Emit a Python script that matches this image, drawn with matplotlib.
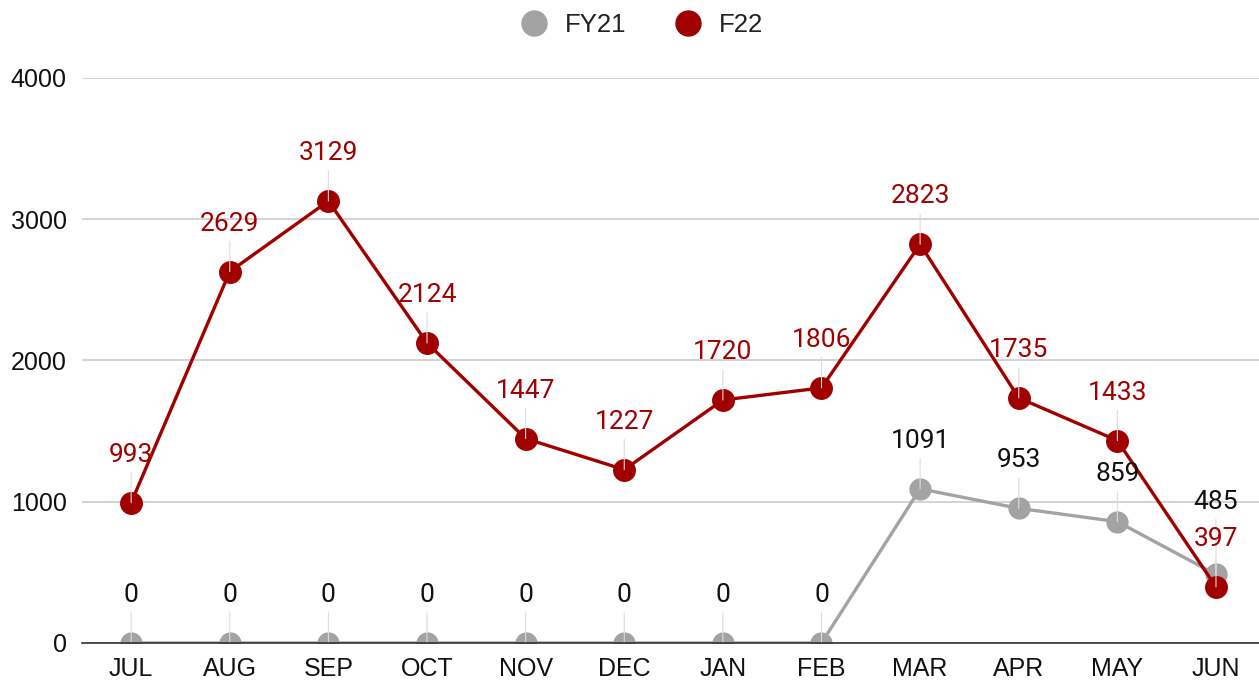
import matplotlib.pyplot as plt
from matplotlib.lines import Line2D

plt.rcParams['font.family'] = ['Liberation Sans', 'DejaVu Sans']

months = ['JUL', 'AUG', 'SEP', 'OCT', 'NOV', 'DEC', 'JAN', 'FEB', 'MAR', 'APR', 'MAY', 'JUN']
fy21 = [0, 0, 0, 0, 0, 0, 0, 0, 1091, 953, 859, 485]
f22 = [993, 2629, 3129, 2124, 1447, 1227, 1720, 1806, 2823, 1735, 1433, 397]

grey = '#a3a3a3'
red = '#a00000'

fig = plt.figure(figsize=(12.59, 6.84), dpi=100)
ax = fig.add_axes([0.065, 0.06, 0.94, 0.826])
x = list(range(len(months)))

ax.plot(x, fy21, color=grey, lw=2.4, marker='o', ms=15, zorder=3)
ax.plot(x, f22, color=red, lw=2.4, marker='o', ms=15.5, zorder=4)

# labels above each point, with a thin leader line
def label(xi, yi, text, color, off=34.5):
    ax.annotate(text, (xi, yi), xytext=(0, off), textcoords='offset points',
                ha='center', va='center', fontsize=19, color=color, zorder=5,
                family=['Roboto', 'DejaVu Sans'],
                arrowprops=dict(arrowstyle='-', color='#dddddd', lw=0.8,
                                shrinkA=2, shrinkB=0), annotation_clip=False)

for i, v in enumerate(fy21):
    off = 52.5 if i == 11 else 34.5
    label(i, v, str(v), '#111111', off)
for i, v in enumerate(f22):
    label(i, v, str(v), red)

ax.set_xlim(-0.5, 11.5)
ax.set_ylim(0, 4000)
ax.set_yticks([0, 1000, 2000, 3000, 4000])
ax.set_xticks(x)
ax.set_xticklabels(months)
ax.grid(axis='y', color='#cccccc', lw=1.2)
ax.set_axisbelow(True)
for s in ['top', 'right', 'left']:
    ax.spines[s].set_visible(False)
ax.spines['bottom'].set_color('#333333')
ax.spines['bottom'].set_linewidth(1.2)
ax.spines['bottom'].set_zorder(6)
ax.tick_params(axis='both', length=0, labelsize=18, colors='#111111')
ax.tick_params(axis='x', pad=10)
ax.tick_params(axis='y', pad=11)

handles = [Line2D([], [], ls='', marker='o', ms=18, color=grey),
           Line2D([], [], ls='', marker='o', ms=18, color=red)]
fig.legend(handles, ['FY21', 'F22'], loc='upper center', bbox_to_anchor=(0.505, 1.015),
           ncol=2, frameon=False, fontsize=18.5, handletextpad=0.2, columnspacing=1.4,
           labelcolor='#222222')

fig.savefig('out.png', dpi=100)
